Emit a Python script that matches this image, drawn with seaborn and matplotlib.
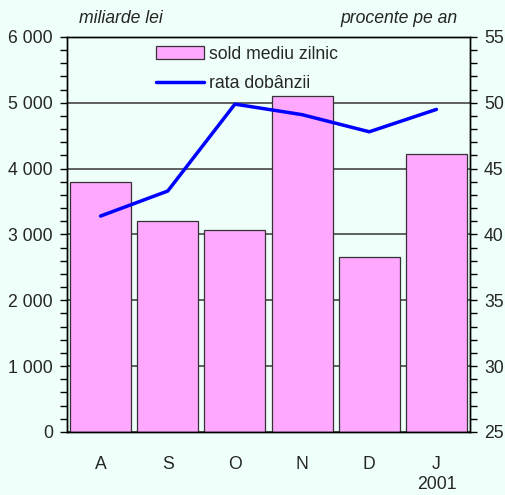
import numpy as np
import seaborn as sns
import matplotlib.pyplot as plt
from matplotlib.ticker import MultipleLocator, FuncFormatter
from matplotlib.patches import Patch
from matplotlib.lines import Line2D
import matplotlib.transforms as mtrans

sns.set_style('ticks')
plt.rcParams['font.family'] = ['Liberation Sans', 'DejaVu Sans']

# data
months = ['A', 'S', 'O', 'N', 'D', 'J']
sold_mediu = [3790, 3200, 3075, 5110, 2665, 4225]   # miliarde lei
rata_dobanzii = [41.4, 43.3, 49.9, 49.1, 47.8, 49.5]  # procente pe an

bg = '#effffa'
bar_color = '#ffa8ff'
line_color = '#0000ff'
fs = 12.7

fig = plt.figure(figsize=(5.06, 4.95), dpi=100, facecolor=bg)
ax = fig.add_axes([0.1324, 0.1273, 0.7965, 0.798])
ax.set_facecolor(bg)

sns.barplot(x=months, y=sold_mediu, color=bar_color, saturation=1, width=0.91,
            edgecolor='#333333', linewidth=0.9, ax=ax)
ax.set_xlim(-0.5, 5.5)
ax.set_ylim(0, 6000)
ax.yaxis.set_major_locator(MultipleLocator(1000))
ax.yaxis.set_minor_locator(MultipleLocator(200))
ax.yaxis.set_major_formatter(FuncFormatter(lambda v, p: f'{int(v):,}'.replace(',', ' ')))
ax.grid(axis='y', which='major', color='#555555', linewidth=1.3)
ax.set_axisbelow(True)
ax.tick_params(axis='y', which='both', direction='out', length=5, width=1,
               color='black', labelsize=fs, pad=5)
ax.tick_params(axis='x', length=0, labelsize=fs, pad=17)
for s in ax.spines.values():
    s.set_color('black')
    s.set_linewidth(1)

ax2 = ax.twinx()
sns.lineplot(x=months, y=rata_dobanzii, color=line_color, linewidth=2.5, ax=ax2)
ax2.set_ylim(25, 55)
ax2.yaxis.set_major_locator(MultipleLocator(5))
ax2.yaxis.set_minor_locator(MultipleLocator(1))
ax2.tick_params(axis='y', which='both', direction='out', length=5, width=1,
                color='black', labelsize=fs, pad=5)
for s in ax2.spines.values():
    s.set_color('black')
    s.set_linewidth(1)

handles = [Patch(facecolor=bar_color, edgecolor='#333333', linewidth=0.9),
           Line2D([], [], color=line_color, linewidth=2.5)]
ax2.legend(handles, ['sold mediu zilnic', 'rata dobânzii'], loc='upper left',
           bbox_to_anchor=(0.222, 0.977), frameon=False, fontsize=fs,
           handlelength=2.7, handleheight=0.75, handletextpad=0.3,
           labelspacing=0.68, borderpad=0, borderaxespad=0)

ax.text(0.03, 1.025, 'miliarde lei', transform=ax.transAxes, fontsize=fs,
        style='italic', ha='left', va='bottom')
ax.text(0.97, 1.025, 'procente pe an', transform=ax.transAxes, fontsize=fs,
        style='italic', ha='right', va='bottom')
trans = mtrans.blended_transform_factory(ax.transData, ax.transAxes)
ax.text(5, -0.133, '2001', transform=trans, fontsize=fs, ha='center', va='center')

fig.savefig('out.png', dpi=100, facecolor=bg)
